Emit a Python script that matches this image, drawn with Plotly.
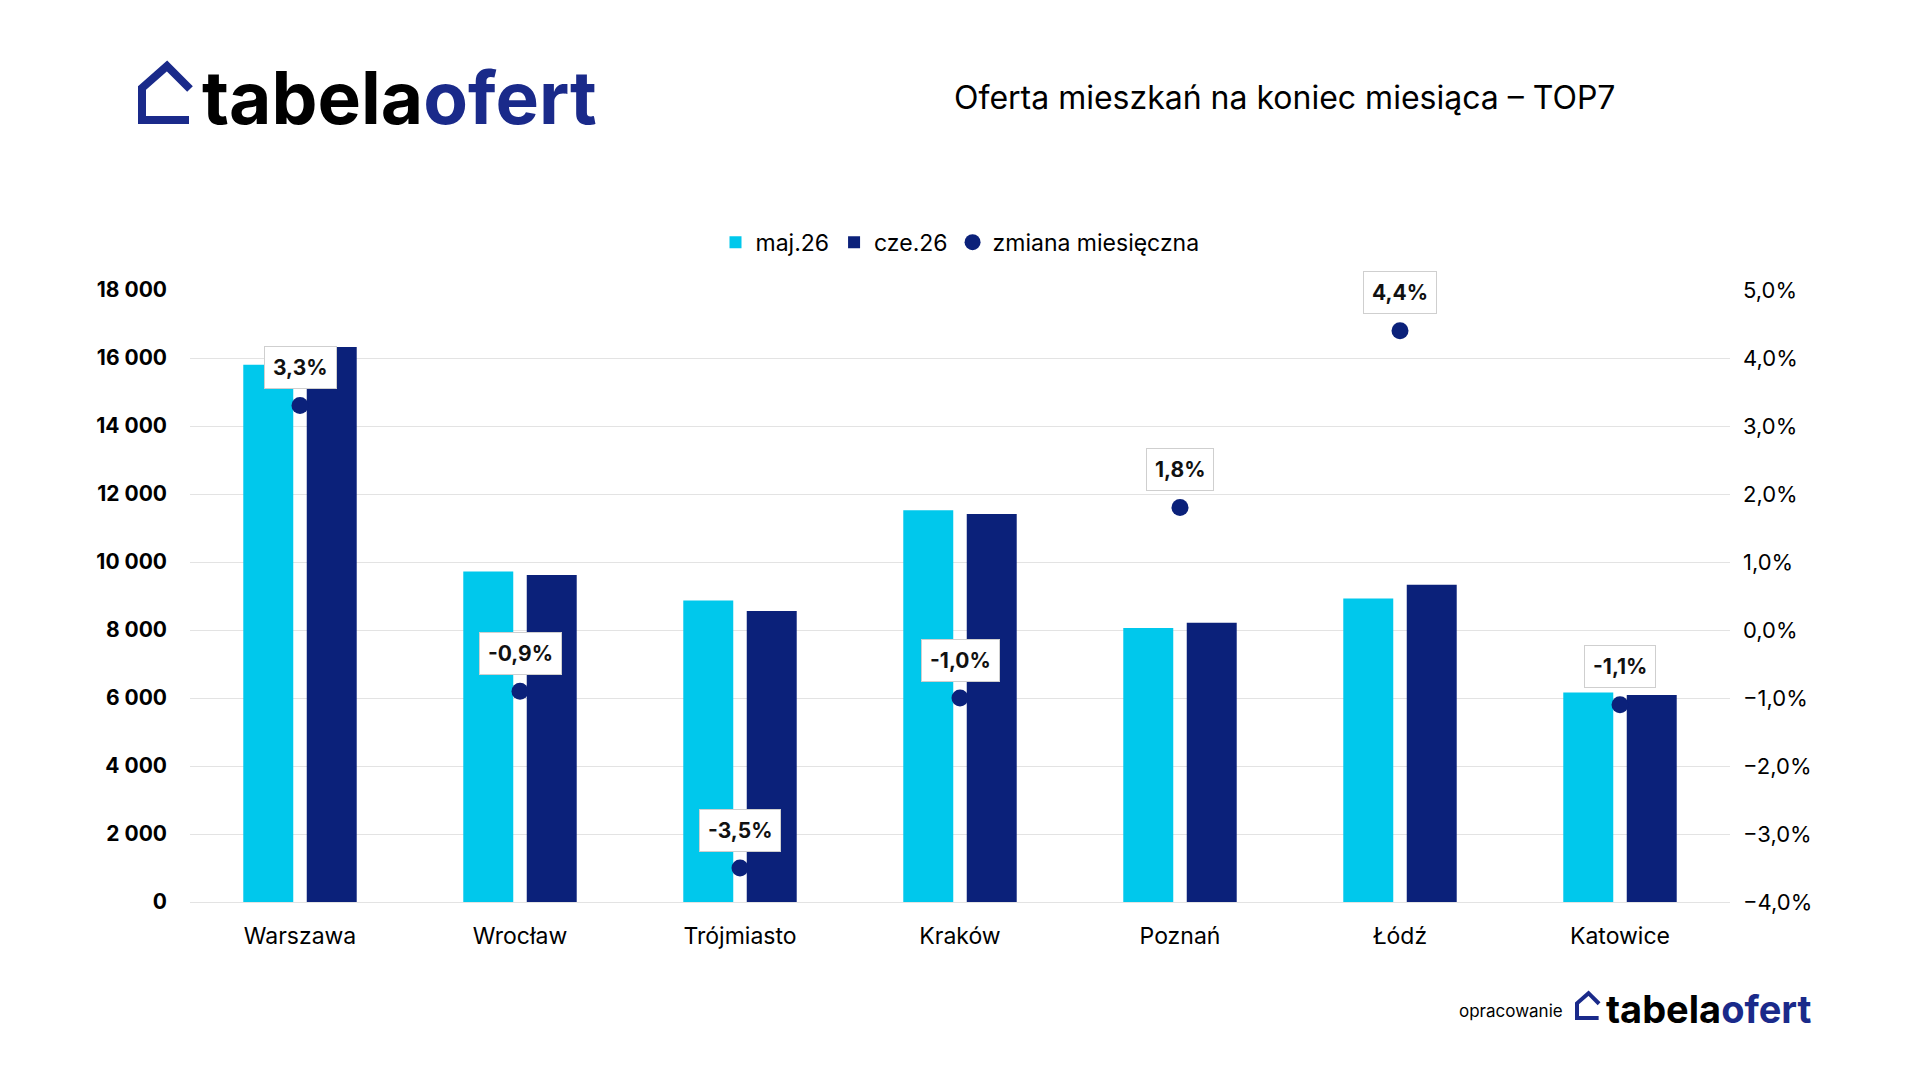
import plotly.graph_objects as go

cities = ["Warszawa", "Wrocław", "Trójmiasto", "Kraków", "Poznań", "Łódź", "Katowice"]
maj26 = [15800, 9720, 8870, 11520, 8060, 8930, 6160]
cze26 = [16320, 9620, 8560, 11410, 8210, 9330, 6090]
zmiana = [3.3, -0.9, -3.5, -1.0, 1.8, 4.4, -1.1]
zmiana_labels = ["3,3%", "-0,9%", "-3,5%", "-1,0%", "1,8%", "4,4%", "-1,1%"]
left_ticks = list(range(0, 18001, 2000))
right_ticks = list(range(-4, 6))
right_tick_labels = ["−4,0%", "−3,0%", "−2,0%", "−1,0%", "0,0%", "1,0%", "2,0%", "3,0%", "4,0%", "5,0%"]

CYAN = "#00C8EC"
NAVY = "#0B217A"
LOGO = "#1A2A8A"
FONT = "Inter"

fig = go.Figure()
fig.add_trace(go.Bar(x=cities, y=maj26, name="maj.26", marker=dict(color=CYAN, line=dict(width=0))))
fig.add_trace(go.Bar(x=cities, y=cze26, name="cze.26", marker=dict(color=NAVY, line=dict(width=0))))
fig.add_trace(go.Scatter(x=cities, y=zmiana, name="zmiana miesięczna", mode="markers",
                         yaxis="y2", marker=dict(color=NAVY, size=17)))

for c, v, t in zip(cities, zmiana, zmiana_labels):
    fig.add_annotation(x=c, y=v, xref="x", yref="y2", text="<b>" + t + "</b>", showarrow=False,
                       yshift=38, font=dict(family=FONT, size=21, color="#111111"),
                       bgcolor="white", bordercolor="#cfcfcf", borderwidth=1, borderpad=8)


def px_x(x):
    return (x - 190) / 1540


def px_y(y):
    return (902 - y) / 612


def house(x0, y0, s, w):
    pts = [(x0 + 47 * s, y0), (x0, y0), (x0, y0 - 32 * s), (x0 + 25 * s, y0 - 54 * s), (x0 + 48 * s, y0 - 31 * s)]
    path = "M " + " L ".join(f"{px_x(a):.5f} {px_y(b):.5f}" for a, b in pts)
    fig.add_shape(type="path", xref="paper", yref="paper", path=path,
                  line=dict(color=LOGO, width=w), fillcolor="rgba(0,0,0,0)")


house(142, 120, 1.0, 8)
fig.add_annotation(xref="paper", yref="paper", x=px_x(200), y=px_y(97), xanchor="left", yanchor="middle",
                   text="<b>tabela<span style='color:%s'>ofert</span></b>" % LOGO, showarrow=False,
                   font=dict(family=FONT, size=73, color="#000000"))

fig.add_annotation(xref="paper", yref="paper", x=px_x(1284), y=px_y(97), xanchor="center", yanchor="middle",
                   text="Oferta mieszkań na koniec miesiąca – TOP7", showarrow=False,
                   font=dict(family=FONT, size=32, color="#000000"))

fig.add_annotation(xref="paper", yref="paper", x=px_x(1565), y=px_y(1011), xanchor="right", yanchor="middle",
                   text="opracowanie", showarrow=False, font=dict(family=FONT, size=17, color="#000000"))
house(1577, 1018, 0.46, 4)
fig.add_annotation(xref="paper", yref="paper", x=px_x(1604), y=px_y(1009), xanchor="left", yanchor="middle",
                   text="<b>tabela<span style='color:%s'>ofert</span></b>" % LOGO, showarrow=False,
                   font=dict(family=FONT, size=38, color="#000000"))

fig.update_layout(
    width=1920, height=1080,
    margin=dict(l=190, r=190, t=290, b=178),
    paper_bgcolor="white", plot_bgcolor="white",
    separators=", ",
    barmode="group", bargap=0.423, bargroupgap=0.2126,
    font=dict(family=FONT, color="#000000"),
    showlegend=True,
    legend=dict(orientation="h", x=0.5, xanchor="center", y=1.078, yanchor="middle",
                font=dict(family=FONT, size=23, color="#000000"), traceorder="normal"),
    xaxis=dict(type="category", range=[-0.5, 6.5], showgrid=False, showline=True, linecolor="#e3e3e3",
               tickfont=dict(family=FONT, size=23, color="#000000"), ticks="", ticklabelstandoff=13),
    yaxis=dict(range=[0, 18000], tickmode="array", tickvals=left_ticks, tickformat=",.0f", showgrid=True,
               gridcolor="#e3e3e3", gridwidth=1, zeroline=False,
               tickfont=dict(family=FONT, size=21, color="#000000", weight="bold"), ticklabelstandoff=22),
    yaxis2=dict(range=[-4, 5], tickmode="array", tickvals=right_ticks, ticktext=right_tick_labels,
                overlaying="y", side="right", showgrid=False, zeroline=False,
                tickfont=dict(family=FONT, size=22, color="#000000"), ticklabelstandoff=12),
)

fig.write_html("out.html")
